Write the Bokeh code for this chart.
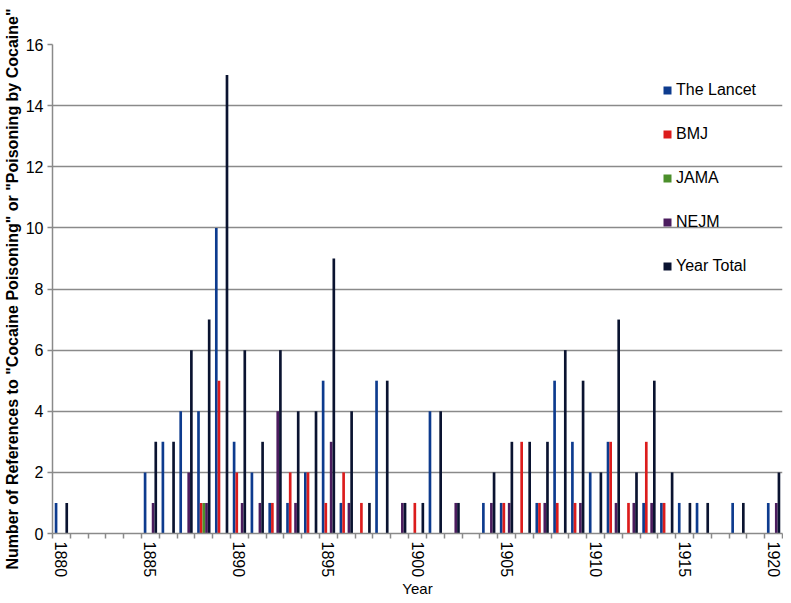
import math
import numpy as np
from bokeh.plotting import figure
from bokeh.models import Range1d, FixedTicker, Legend, LegendItem
from bokeh.embed import file_html
from bokeh.resources import INLINE

years = list(range(1880, 1921))
tick_years = [1880, 1885, 1890, 1895, 1900, 1905, 1910, 1915, 1920]

lancet = [1, 0, 0, 0, 0, 2, 3, 4, 4, 10, 3, 2, 1, 1, 2, 5, 1, 0, 5, 0,
          0, 4, 0, 0, 1, 1, 0, 1, 5, 3, 2, 3, 0, 1, 1, 1, 1, 0, 1, 0, 1]
bmj = [0, 0, 0, 0, 0, 0, 0, 0, 1, 5, 2, 0, 1, 2, 2, 1, 2, 1, 0, 0,
       1, 0, 0, 0, 0, 1, 3, 1, 1, 1, 0, 3, 1, 3, 1, 0, 0, 0, 0, 0, 0]
jama = [0, 0, 0, 0, 0, 0, 0, 0, 1, 0, 0, 0, 0, 0, 0, 0, 0, 0, 0, 0,
        0, 0, 0, 0, 0, 0, 0, 0, 0, 0, 0, 0, 0, 0, 0, 0, 0, 0, 0, 0, 0]
nejm = [0, 0, 0, 0, 0, 1, 0, 2, 1, 0, 1, 1, 4, 1, 0, 3, 1, 0, 0, 1,
        0, 0, 1, 0, 1, 1, 0, 1, 0, 1, 0, 1, 1, 1, 0, 0, 0, 0, 0, 0, 1]
total = [1, 0, 0, 0, 0, 3, 3, 6, 7, 15, 6, 3, 6, 4, 4, 9, 4, 1, 5, 1,
         1, 4, 1, 0, 2, 3, 3, 3, 6, 5, 2, 7, 2, 5, 2, 1, 1, 0, 1, 0, 2]

series_names = ["The Lancet", "BMJ", "JAMA", "NEJM", "Year Total"]
series_values = [lancet, bmj, jama, nejm, total]
colors = ["#0d3b8e", "#dc1c1c", "#4b8f2b", "#4b1c5e", "#0a1330"]
offsets = [-0.3, -0.15, 0.0, 0.15, 0.3]
bar_w = 0.15

FONT = "Liberation Sans"
GRAY = "#8a8a8a"

p = figure(width=783, height=600,
           x_range=Range1d(1879.5, 1920.5), y_range=Range1d(0, 16),
           output_backend="svg", toolbar_location=None,
           min_border_left=46, min_border_right=1,
           min_border_top=44, min_border_bottom=60)
p.outline_line_color = None
p.background_fill_color = "white"

renderers = []
yr = np.array(years, dtype=float)
for vals, col, off in zip(series_values, colors, offsets):
    r = p.vbar(x=yr + off, top=vals, width=bar_w, bottom=0,
               fill_color=col, line_color=None)
    renderers.append(r)

# x axis
p.xaxis.ticker = FixedTicker(ticks=tick_years,
                             minor_ticks=[1879.5 + i for i in range(42)])
p.xaxis.major_tick_line_color = None
p.xaxis.major_tick_out = 5
p.xaxis.major_tick_in = 0
p.xaxis.minor_tick_out = 5
p.xaxis.minor_tick_in = 0
p.xaxis.minor_tick_line_color = GRAY
p.xaxis.minor_tick_line_width = 1.5
p.xaxis.major_label_orientation = -math.pi / 2
p.xaxis.major_label_standoff = 3
p.xaxis.axis_label = "Year"
p.xaxis.axis_label_standoff = 0
p.xaxis.axis_label_text_font_style = "normal"

# y axis
p.yaxis.ticker = FixedTicker(ticks=list(range(0, 17, 2)))
p.yaxis.major_tick_out = 5
p.yaxis.major_tick_in = 0
p.yaxis.major_tick_line_color = GRAY
p.yaxis.major_tick_line_width = 1.5
p.yaxis.minor_tick_line_color = None
p.yaxis.major_label_standoff = 4
p.yaxis.axis_label = 'Number of References to "Cocaine Poisoning" or "Poisoning by Cocaine"'
p.yaxis.axis_label_standoff = 2
p.yaxis.axis_label_text_font_style = "bold"

for ax in (p.xaxis[0], p.yaxis[0]):
    ax.axis_line_color = GRAY
    ax.axis_line_width = 1.5
    ax.major_label_text_font = FONT
    ax.major_label_text_font_size = "16px"
    ax.major_label_text_color = "black"
    ax.axis_label_text_font = FONT
    ax.axis_label_text_color = "black"
p.xaxis.axis_label_text_font_size = "15px"
p.yaxis.axis_label_text_font_size = "16px"

p.xgrid.grid_line_color = None
p.ygrid.ticker = FixedTicker(ticks=list(range(0, 17, 2)))
p.ygrid.grid_line_color = GRAY
p.ygrid.grid_line_width = 1.5

items = [LegendItem(label=n, renderers=[r]) for n, r in zip(series_names, renderers)]
legend = Legend(items=items, location=(610, 258), orientation="vertical",
                border_line_color=None, background_fill_alpha=0,
                label_text_font=FONT, label_text_font_size="16px",
                label_text_color="black",
                glyph_width=10, glyph_height=10, label_height=10,
                label_standoff=4, spacing=26, padding=0, margin=0)
p.add_layout(legend)

open("out.html", "w").write(file_html(p, INLINE))
